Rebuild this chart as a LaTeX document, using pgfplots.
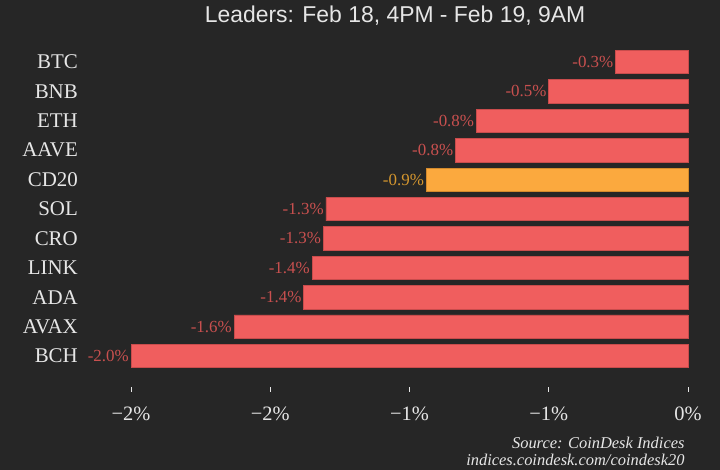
\documentclass[border=0pt]{standalone}
\usepackage{fontspec}
\setmainfont{Liberation Serif}
\setsansfont{Liberation Sans}
\usepackage{pgfplots}
\usepackage{pgfplotstable}
\pgfplotsset{compat=1.18}

\definecolor{bg}{HTML}{262626}
\definecolor{barred}{HTML}{F05E5E}
\definecolor{baredge}{HTML}{C94C4C}
\definecolor{barorange}{HTML}{FBA93E}
\definecolor{orangeedge}{HTML}{D48A2C}
\definecolor{labred}{HTML}{C8504F}
\definecolor{laborange}{HTML}{D4962E}
\definecolor{txt}{HTML}{E6E6E6}

% row index (0 = bottom), change in %, printed label
\pgfplotstableread{
y  x      lab
10 -0.26  -0.3
9  -0.50  -0.5
8  -0.76  -0.8
7  -0.835 -0.8
5  -1.30  -1.3
4  -1.31  -1.3
3  -1.35  -1.4
2  -1.38  -1.4
1  -1.63  -1.6
0  -2.00  -2.0
}\coins
\pgfplotstableread{
y  x      lab
6  -0.94  -0.9
}\index

\begin{document}
\begin{tikzpicture}
\path[use as bounding box, clip] (0,0) rectangle (720bp,470bp);
\fill[bg] (0,0) rectangle (720bp,470bp);

\begin{axis}[
    at={(131bp,83.1bp)}, anchor=south west,
    scale only axis, width=557bp, height=339.6bp,
    xmin=-2, xmax=0, ymin=-1.05, ymax=10.5,
    xbar, bar shift=0pt, bar width=23.5bp,
    clip=false,
    axis line style={draw=none},
    xtick={-2,-1.5,-1,-0.5,0},
    xticklabels={−2\%,−2\%,−1\%,−1\%,0\%},
    xtick pos=bottom, ytick pos=left, tick align=outside,
    major tick length=5bp,
    xtick style={draw=txt, line width=0.8bp},
    xticklabel style={font=\fontsize{20.5}{24}\selectfont, text=txt, yshift=-11bp},
    ytick={0,...,10},
    yticklabels={BCH,AVAX,ADA,LINK,CRO,SOL,CD20,AAVE,ETH,BNB,BTC},
    ytick style={draw=none},
    yticklabel style={font=\fontsize{21}{25}\selectfont, text=txt, anchor=east, inner sep=0pt, xshift=-48bp},
    point meta=explicit symbolic,
    nodes near coords={\pgfplotspointmeta\%},
    nodes near coords style={font=\fontsize{17}{20}\selectfont, anchor=east, inner sep=2bp},
]
\addplot[fill=barred, draw=baredge, line width=0.6bp,
    nodes near coords style={text=labred}]
    table[x=x, y=y, meta=lab] {\coins};
\addplot[fill=barorange, draw=orangeedge, line width=0.6bp,
    nodes near coords style={text=laborange}]
    table[x=x, y=y, meta=lab] {\index};
\end{axis}

\node[anchor=base, font=\sffamily\fontsize{23}{27}\selectfont, text=txt]
    at (395bp,447bp) {Leaders: Feb 18, 4PM - Feb 19, 9AM};
\node[anchor=base east, font=\itshape\fontsize{16.5}{20}\selectfont, text=txt]
    at (688bp,22bp) {Source: CoinDesk Indices};
\node[anchor=base east, font=\itshape\fontsize{16.5}{20}\selectfont, text=txt]
    at (688bp,4.5bp) {indices.coindesk.com/coindesk20};
\end{tikzpicture}
\end{document}
